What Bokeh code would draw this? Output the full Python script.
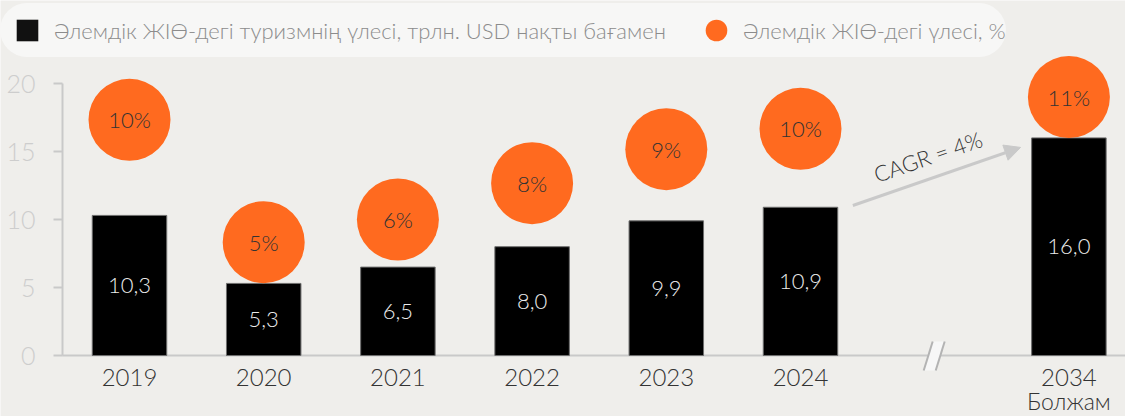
import math
from bokeh.plotting import figure
from bokeh.models import (ColumnDataSource, Range1d, FixedTicker, Legend,
                          LegendItem, Arrow, NormalHead, Label)
from bokeh.core.properties import value
from bokeh.embed import file_html
from bokeh.resources import INLINE

# ---------------- data ----------------
years = ["2019", "2020", "2021", "2022", "2023", "2024", "2034"]
year_sub = ["", "", "", "", "", "", "Болжам"]
positions = [0, 1, 2, 3, 4, 5, 7]
tourism_gdp = [10.3, 5.3, 6.5, 8.0, 9.9, 10.9, 16.0]          # trillion USD
tourism_labels = ["10,3", "5,3", "6,5", "8,0", "9,9", "10,9", "16,0"]
share_pct = [10.4, 5.0, 6.0, 7.6, 9.1, 10.0, 11.4]            # % of world GDP
share_labels = ["10%", "5%", "6%", "8%", "9%", "10%", "11%"]
y_ticks = [0, 5, 10, 15, 20]
cagr_text = "CAGR = 4%"
legend_bar = "Әлемдік ЖІӨ-дегі туризмнің үлесі, трлн. USD нақты бағамен"
legend_dot = "Әлемдік ЖІӨ-дегі үлесі, %"

# ---------------- style ----------------
FONT = "Lato Light, Lato"
BG = "#efeeeb"
ORANGE = "#ff6a1f"
AXIS = "#c9c9c9"
DARK = "#333333"

W, H = 1125, 416
PX_X = 134.2          # px per category slot
PX_Y = 13.6           # px per y unit
X0 = -129 / PX_X
X1 = X0 + W / PX_X
Y0 = -61 / PX_Y
Y1 = Y0 + H / PX_Y
AXIS_X = -0.5         # where the y axis sits
PCT_PER_UNIT = 0.6    # hidden secondary scale: 12 % <-> 20 units

p = figure(width=W, height=H, x_range=Range1d(X0, X1), y_range=Range1d(Y0, Y1),
           output_backend="svg", toolbar_location=None, x_axis_location=None,
           min_border_left=0, min_border_right=0, min_border_top=0, min_border_bottom=0,
           background_fill_color=BG, border_fill_color=BG, outline_line_color=None)
p.extra_y_ranges = {"pct": Range1d(Y0 * PCT_PER_UNIT, Y1 * PCT_PER_UNIT)}
p.grid.visible = False

ax = p.yaxis[0]
ax.fixed_location = AXIS_X
ax.ticker = FixedTicker(ticks=y_ticks)
ax.bounds = (0, 20)
ax.axis_line_color = AXIS
ax.axis_line_width = 2
ax.major_tick_line_color = AXIS
ax.major_tick_line_width = 2
ax.major_tick_out = 9
ax.major_tick_in = 0
ax.minor_tick_out = 0
ax.minor_tick_in = 0
ax.major_label_text_font = FONT
ax.major_label_text_font_size = "25px"
ax.major_label_text_color = "#cdcdcd"
ax.major_label_standoff = 18

src = ColumnDataSource(dict(
    x=positions,
    top=tourism_gdp,
    mid=[v / 2 for v in tourism_gdp],
    blab=tourism_labels,
    pct=share_pct,
    plab=share_labels,
    year=years,
    sub=year_sub,
    year_y=[-1.0] * len(years),
    sub_y=[-1.0 - 18 / PX_Y] * len(years),
))

# baseline (x axis line), starting at the y axis
p.segment(x0=[AXIS_X], y0=[0], x1=[X1], y1=[0], line_color=AXIS, line_width=2)

p.vbar(x="x", top="top", width=0.555, source=src, fill_color="#000000",
       line_color="#6e6e6e", line_width=1)
p.text(x="x", y="mid", text="blab", source=src, text_color="#ececec",
       text_font=value(FONT), text_font_size="22px", text_align="center",
       text_baseline="middle")

p.scatter(x="x", y="pct", source=src, y_range_name="pct", size=82,
          fill_color=ORANGE, line_color=None)
p.text(x="x", y="pct", text="plab", source=src, y_range_name="pct",
       text_color=DARK, text_font=value(FONT), text_font_size="22px",
       text_align="center", text_baseline="middle")

# x labels
p.text(x="x", y="year_y", text="year", source=src, text_color=DARK,
       text_font=value(FONT), text_font_size="24px", text_align="center",
       text_baseline="top")
p.text(x="x", y="sub_y", text="sub", source=src, text_color=DARK,
       text_font=value(FONT), text_font_size="23px", text_align="center",
       text_baseline="top")

# axis break marker between 2024 and 2034
px_x = 1 / PX_X
bx = (positions[5] + positions[6]) / 2
bxs = [bx - 11 * px_x, bx + 1 * px_x, bx + 10 * px_x, bx - 2 * px_x]
bys = [-1.1, -1.1, 1.03, 1.03]
p.patch(bxs, bys, fill_color="#f7f7f7", line_color=None)
p.segment(x0=[bxs[0], bxs[1]], y0=[bys[0], bys[1]], x1=[bxs[3], bxs[2]], y1=[bys[3], bys[2]],
          line_color="#b3b3b3", line_width=2)

# CAGR arrow and label
p.add_layout(Arrow(end=NormalHead(size=16, fill_color=AXIS, line_color=AXIS),
                   x_start=positions[5] + 0.39, y_start=tourism_gdp[5] + 0.13,
                   x_end=positions[6] - 0.36, y_end=tourism_gdp[6] - 0.7,
                   line_color=AXIS, line_width=3))
p.add_layout(Label(x=5.95, y=14.63, text=cagr_text, angle=19, angle_units="deg",
                   text_align="center", text_baseline="middle", text_font=FONT,
                   text_font_size="22px", text_color=DARK))

# legend (proxy renderers placed outside the visible ranges)
r1 = p.scatter(x=[-100], y=[-100], marker="square", fill_color="#111111", line_color=None)
r2 = p.scatter(x=[-100], y=[-100], marker="circle", fill_color=ORANGE, line_color=None)
legend = Legend(items=[LegendItem(label=legend_bar, renderers=[r1]),
                       LegendItem(label=legend_dot, renderers=[r2])],
                orientation="horizontal", location=(0, H - 3 - 54),
                glyph_width=54, glyph_height=54, padding=0, spacing=23,
                label_standoff=-6, margin=0,
                label_text_font=FONT, label_text_font_size="22px",
                label_text_color="#8c8c8c",
                background_fill_color="#f7f7f6", background_fill_alpha=1.0,
                border_line_color=None)
try:
    legend.border_radius = 27
except Exception:
    pass
p.add_layout(legend)

open("out.html", "w").write(file_html(p, INLINE))
